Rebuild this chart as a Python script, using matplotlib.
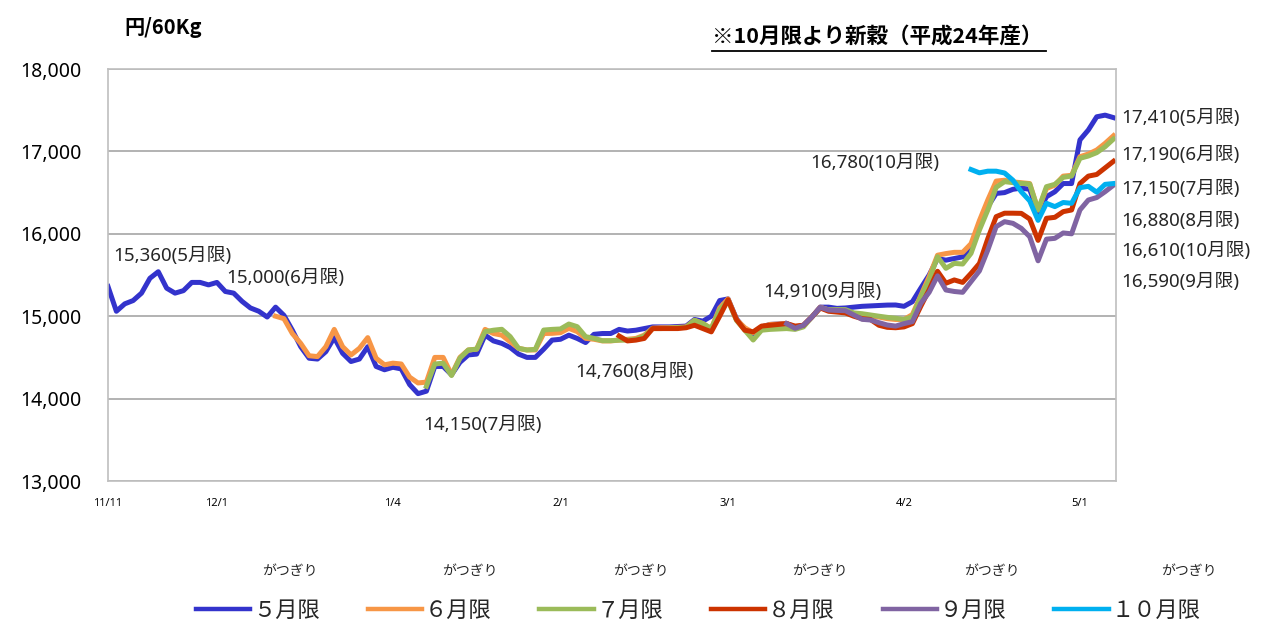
import numpy as np
import matplotlib
matplotlib.use("Agg")
import matplotlib.pyplot as plt
from matplotlib.lines import Line2D

plt.rcParams['font.family'] = ['Noto Sans', 'Noto Sans CJK JP', 'DejaVu Sans']

# trading-day index of each date tick
tick_pos = [0, 13, 34, 54, 74, 95, 116]
tick_labels = ['11/11', '12/1', '1/4', '2/1', '3/1', '4/2', '5/1']

# each contract starts at its own trading-day index
start_5 = 0
may = [15360, 15060, 15150, 15190, 15280, 15460, 15540, 15340, 15280, 15310,
       15410, 15410, 15380, 15410, 15300, 15280, 15180, 15100, 15060, 14990,
       15110, 15010, 14830, 14630, 14490, 14480, 14570, 14740, 14550, 14450,
       14480, 14630, 14390, 14350, 14380, 14360, 14170, 14060, 14090, 14390,
       14390, 14290, 14440, 14530, 14540, 14770, 14700, 14670, 14620, 14540,
       14500, 14500, 14600, 14710, 14720, 14770, 14730, 14680, 14780, 14790,
       14790, 14840, 14820, 14830, 14850, 14870, 14870, 14870, 14875, 14880,
       14960, 14940, 15000, 15190, 15210, 14970, 14840, 14790, 14870, 14900,
       14905, 14910, 14865, 14890, 14990, 15110, 15110, 15095, 15100, 15110,
       15120, 15125, 15130, 15135, 15136, 15120, 15176, 15340, 15500, 15700,
       15680, 15700, 15720, 15840, 16100, 16330, 16490, 16500, 16540, 16555,
       16540, 16250, 16450, 16510, 16610, 16610, 17140, 17260, 17420, 17440,
       17410]

start_6 = 20
jun = [15000, 14970, 14790, 14670, 14520, 14510, 14630, 14840, 14630, 14530,
       14610, 14740, 14490, 14410, 14430, 14420, 14260, 14190, 14200, 14500,
       14500, 14290, 14500, 14590, 14600, 14840, 14790, 14770, 14690, 14610,
       14590, 14590, 14790, 14792, 14800, 14853, 14813, 14731, 14720, 14700,
       14700, 14710, 14720, 14730, 14770, 14855, 14860, 14860, 14865, 14870,
       14950, 14910, 14850, 15100, 15210, 14960, 14860, 14800, 14870, 14900,
       14905, 14910, 14870, 14890, 14990, 15110, 15075, 15075, 15050, 15030,
       15000, 15000, 14990, 14970, 14960, 14960, 15020, 15250, 15480, 15740,
       15760, 15775, 15775, 15880, 16160, 16410, 16640, 16650, 16630, 16620,
       16610, 16290, 16550, 16590, 16700, 16710, 16936, 16968, 17017, 17098,
       17190]

start_7 = 38
jul = [14150, 14420, 14430, 14280, 14490, 14590, 14600, 14812, 14830, 14841,
       14752, 14610, 14590, 14598, 14832, 14840, 14845, 14905, 14873, 14752,
       14731, 14703, 14703, 14710, 14710, 14720, 14760, 14850, 14850, 14855,
       14860, 14865, 14950, 14910, 14850, 15080, 15190, 14950, 14830, 14711,
       14830, 14840, 14845, 14850, 14840, 14870, 14990, 15100, 15080, 15080,
       15080, 15040, 15030, 15015, 15000, 14986, 14975, 14960, 14994, 15237,
       15439, 15722, 15581, 15641, 15633, 15763, 16046, 16289, 16564, 16633,
       16621, 16612, 16604, 16289, 16572, 16600, 16685, 16701, 16916, 16944,
       16985, 17057, 17150]

start_8 = 61
aug = [14760, 14700, 14710, 14730, 14850, 14850, 14850, 14850, 14860, 14890,
       14850, 14810, 15000, 15200, 14960, 14830, 14810, 14880, 14890, 14900,
       14910, 14880, 14890, 14990, 15100, 15060, 15050, 15040, 15000, 14970,
       14960, 14890, 14865, 14860, 14870, 14910, 15120, 15320, 15545, 15400,
       15440, 15410, 15520, 15640, 15940, 16208, 16250, 16250, 16248, 16180,
       15920, 16188, 16200, 16269, 16289, 16610, 16700, 16720, 16800, 16880]

start_9 = 81
sep = [14910, 14853, 14890, 14990, 15108, 15075, 15070, 15067, 15015, 14962,
       14954, 14922, 14893, 14880, 14910, 14934, 15156, 15290, 15490, 15318,
       15300, 15290, 15420, 15550, 15803, 16087, 16147, 16127, 16066, 15965,
       15672, 15935, 15945, 16010, 16000, 16290, 16410, 16440, 16511, 16590]

start_10 = 103
octo = [16780, 16740, 16760, 16760, 16738, 16650, 16510, 16400, 16163, 16370,
        16330, 16380, 16370, 16560, 16576, 16505, 16600, 16610]

series = [
    ('５月限', start_5, may, '#3333CC'),
    ('６月限', start_6, jun, '#F79646'),
    ('７月限', start_7, jul, '#9BBB59'),
    ('８月限', start_8, aug, '#CC3300'),
    ('９月限', start_9, sep, '#8064A2'),
    ('１０月限', start_10, octo, '#00B0F0'),
]

W, H = 1283, 623
fig = plt.figure(figsize=(W / 100, H / 100), dpi=100)
ax = fig.add_axes([108 / W, 1 - 481 / H, (1116 - 108) / W, (481 - 69) / H])

for name, s, vals, col in series:
    x = np.arange(s, s + len(vals))
    ax.plot(x, vals, color=col, lw=3.6, label=name, solid_joinstyle='round')

ax.set_xlim(0, 120.3)
ax.set_ylim(13000, 18000)
ax.set_yticks(np.arange(13000, 18001, 1000))
ax.set_yticklabels(['{:,}'.format(v) for v in range(13000, 18001, 1000)], fontsize=14)
ax.set_xticks(tick_pos)
ax.set_xticklabels(tick_labels, fontsize=8)
ax.tick_params(length=0)
ax.tick_params(axis='y', pad=19)
ax.tick_params(axis='x', pad=12)
ax.grid(axis='y', color='#A6A6A6', lw=1.2)
ax.set_axisbelow(True)
for sp in ax.spines.values():
    sp.set_color('#BFBFBF')
    sp.set_linewidth(1.2)


def ftext(px, py, s, **kw):
    fig.text(px / W, 1 - py / H, s, va='center', **kw)


lab = dict(fontsize=13.5, color='#262626')
ftext(113, 256, '15,360(5月限)', **lab)
ftext(226, 278, '15,000(6月限)', **lab)
ftext(423, 425, '14,150(7月限)', **lab)
ftext(575, 372, '14,760(8月限)', **lab)
ftext(763, 292, '14,910(9月限)', **lab)
ftext(810, 163, '16,780(10月限)', **lab)
ftext(1121, 118, '17,410(5月限)', **lab)
ftext(1121, 155, '17,190(6月限)', **lab)
ftext(1121, 189, '17,150(7月限)', **lab)
ftext(1121, 221, '16,880(8月限)', **lab)
ftext(1121, 251, '16,610(10月限)', **lab)
ftext(1121, 282, '16,590(9月限)', **lab)

bold = dict(fontweight='bold', family=['Noto Sans CJK JP', 'DejaVu Sans'])
ftext(124, 27, '円/60Kg', fontsize=14.5, **bold)
ftext(712, 37, '※10月限より新穀（平成24年産）', fontsize=15.5, **bold)
fig.add_artist(Line2D([712 / W, 1046 / W], [1 - 51 / H, 1 - 51 / H], color='black', lw=1.3))

leg = fig.legend(loc='center left', bbox_to_anchor=(196 / W, 1 - 611 / H), ncol=6, frameon=False,
                 fontsize=16, handlelength=2.45, handletextpad=0.12, columnspacing=2.15,
                 borderpad=0, borderaxespad=0)
for t in leg.get_texts():
    t.set_color('#262626')
for h in leg.get_lines():
    h.set_linewidth(3.2)

for cx in [290, 470, 641, 820, 992, 1189]:
    ftext(cx, 572, 'がつぎり', fontsize=10, ha='center', color='#262626')

fig.savefig('out.png', dpi=100)
